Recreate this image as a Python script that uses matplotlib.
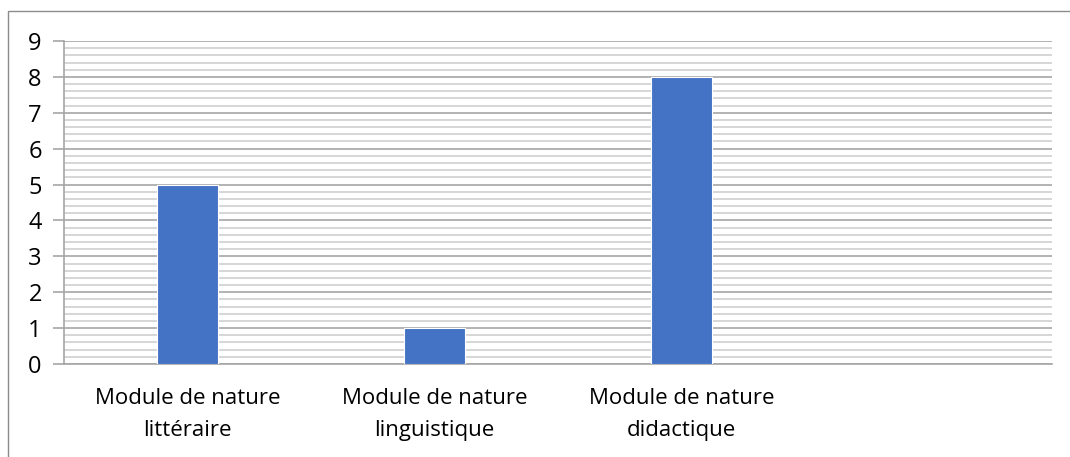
import matplotlib
matplotlib.use("Agg")
import matplotlib.pyplot as plt
from matplotlib.ticker import MultipleLocator
from matplotlib.patches import Rectangle

categories = ["Module de nature\nlittéraire", "Module de nature\nlinguistique", "Module de nature\ndidactique", ""]
values = [5, 1, 8, 0]

plt.rcParams['font.family'] = ['Open Sans', 'DejaVu Sans']

fig = plt.figure(figsize=(10.70, 4.57), dpi=100)
ax = fig.add_axes([64/1070, 1-364/457, (1052-64)/1070, (364-41)/457])

x = list(range(len(categories)))
ax.bar(x[:3], values[:3], width=0.245, color='#4472C4', edgecolor='white', linewidth=0.8, zorder=3)

ax.set_xlim(-0.5, 3.5)
ax.set_ylim(0, 9)
ax.yaxis.set_major_locator(MultipleLocator(1))
ax.yaxis.set_minor_locator(MultipleLocator(0.2))
ax.grid(which='major', axis='y', color='#a6a6a6', linewidth=1.2, zorder=1)
ax.grid(which='minor', axis='y', color='#cfcfcf', linewidth=1.2, zorder=1)
ax.set_xticks(x)
ax.set_xticklabels(categories, fontsize=16, linespacing=1.7)
ax.tick_params(axis='x', length=0, pad=17)
ax.tick_params(axis='y', which='major', length=8, color='#a6a6a6', width=1.2, labelsize=17, pad=8)
ax.tick_params(axis='y', which='minor', length=0)
for s in ['top', 'right']:
    ax.spines[s].set_visible(False)
ax.spines['left'].set_color('#a6a6a6')
ax.spines['bottom'].set_color('#a6a6a6')
ax.spines['left'].set_linewidth(1.2)
ax.spines['bottom'].set_linewidth(1.2)

# outer chart frame
fig.patches.append(Rectangle((8/1070, -0.1), 1.2, 1-11/457+0.1, transform=fig.transFigure,
                             fill=False, edgecolor='#8c8c8c', linewidth=1.0))

fig.savefig("out.png", dpi=100)
